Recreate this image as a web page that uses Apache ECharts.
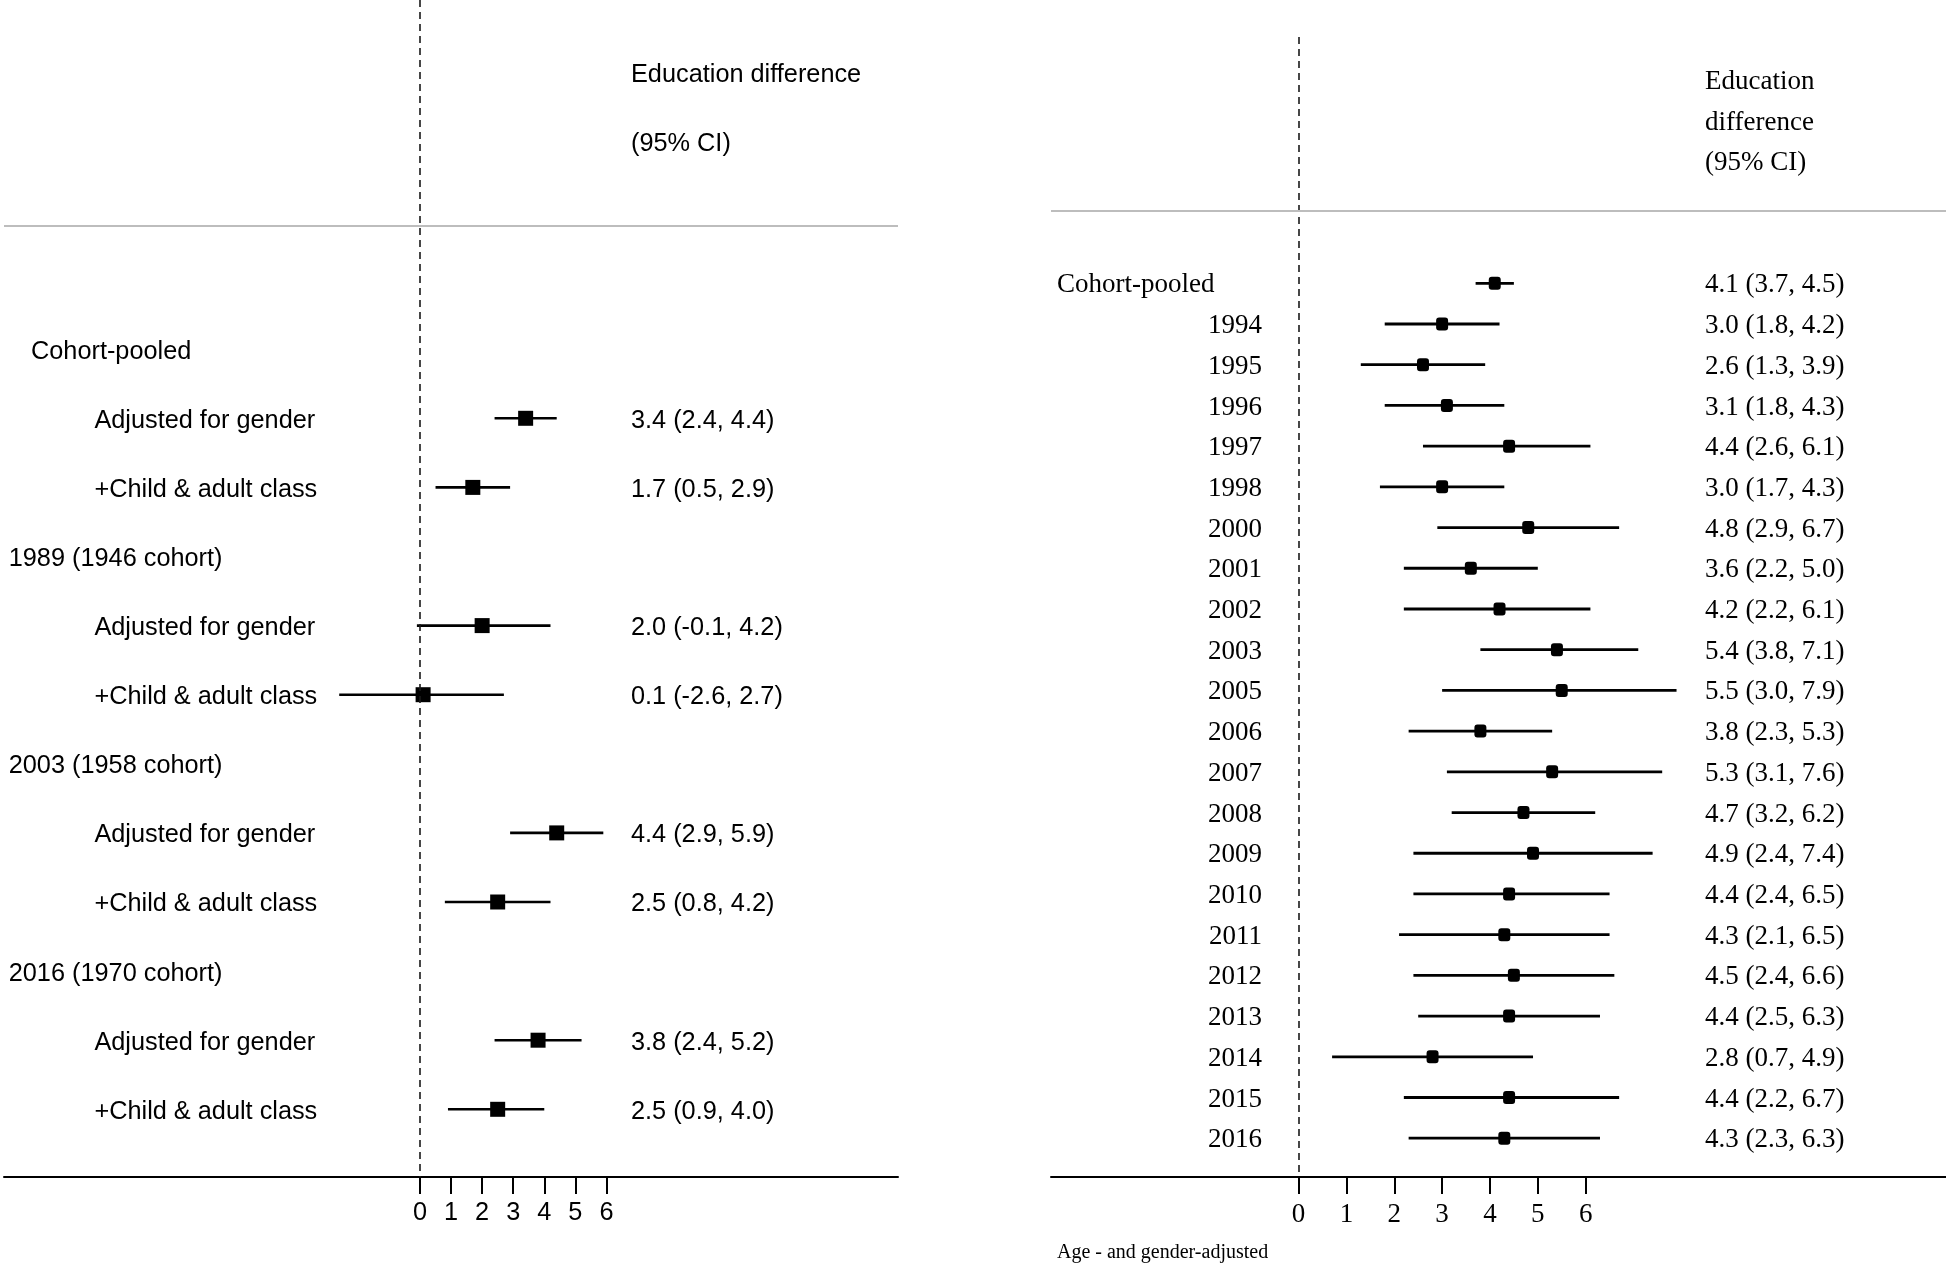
<!DOCTYPE html>
<html><head><meta charset="utf-8">
<script src="https://cdn.jsdelivr.net/npm/echarts@6/dist/echarts.min.js"></script>
<style>html,body{margin:0;padding:0;background:#fff}#c{width:1946px;height:1263px}</style>
</head><body><div id="c"></div><script>
// ---------- Left panel data ----------
const leftLabels = ['Cohort-pooled','Adjusted for gender','+Child & adult class',
  '1989 (1946 cohort)','Adjusted for gender','+Child & adult class',
  '2003 (1958 cohort)','Adjusted for gender','+Child & adult class',
  '2016 (1970 cohort)','Adjusted for gender','+Child & adult class'];
const leftLevel = [1,2,2,0,2,2,0,2,2,0,2,2];
const leftEst = [null,3.4,1.7,null,2.0,0.1,null,4.4,2.5,null,3.8,2.5];
const leftLo  = [null,2.4,0.5,null,-0.1,-2.6,null,2.9,0.8,null,2.4,0.9];
const leftHi  = [null,4.4,2.9,null,4.2,2.7,null,5.9,4.2,null,5.2,4.0];
const leftHeader = ['Education difference','(95% CI)'];

// ---------- Right panel data ----------
const rightLabels = ['Cohort-pooled','1994','1995','1996','1997','1998','2000','2001','2002','2003',
  '2005','2006','2007','2008','2009','2010','2011','2012','2013','2014','2015','2016'];
const rightEst = [4.1,3.0,2.6,3.1,4.4,3.0,4.8,3.6,4.2,5.4,5.5,3.8,5.3,4.7,4.9,4.4,4.3,4.5,4.4,2.8,4.4,4.3];
const rightLo  = [3.7,1.8,1.3,1.8,2.6,1.7,2.9,2.2,2.2,3.8,3.0,2.3,3.1,3.2,2.4,2.4,2.1,2.4,2.5,0.7,2.2,2.3];
const rightHi  = [4.5,4.2,3.9,4.3,6.1,4.3,6.7,5.0,6.1,7.1,7.9,5.3,7.6,6.2,7.4,6.5,6.5,6.6,6.3,4.9,6.7,6.3];
const rightHeader = ['Education','difference','(95% CI)'];

const tickValues = [0,1,2,3,4,5,6];
const noteText = 'Age - and gender-adjusted';

// ---------- Layout (pixels) ----------
const LP = {left:4, right:898, top:0, bottom:1177, x0:420, ux:31.07, row0:349.2, rowH:69.1,
  font:'Liberation Sans', fs:25.3, dy:2.5, levelX:[8.7,31,94.4], estX:631, headRows:[-4,-3], grayY:226,
  sq:[15,15], sym:'rect', lw:2.6};
const RP = {left:1051, right:1946, top:37, bottom:1177, x0:1298.6, ux:47.84, row0:283.3, rowH:40.71,
  font:'Liberation Serif', fs:27, dy:2, estX:1705, headRows:[-5,-4,-3], grayY:211,
  sq:[12,13], sym:'roundRect', lw:2.8};

const xv = (P,px) => (px - P.x0)/P.ux;
const yv = (P,py) => (py - P.row0)/P.rowH;
const fmt = (e,l,h) => e.toFixed(1)+' ('+l.toFixed(1)+', '+h.toFixed(1)+')';

function textSeries(P, idx, items){
  return {
    type:'custom', xAxisIndex:idx, yAxisIndex:idx, silent:true, z:5,
    data: items.map(d=>[d[0],d[1]]),
    renderItem:(params, api)=>{
      const it = items[params.dataIndex];
      const p = api.coord([api.value(0), api.value(1)]);
      return {type:'text', x:p[0], y:p[1]+P.dy,
        style:{text:it[2], fill:'#000', font: P.fs+'px "'+P.font+'"',
          textAlign:it[3], align:it[3], textVerticalAlign:'middle', verticalAlign:'middle'}};
    }
  };
}
function ciSeries(P, idx, est, lo, hi){
  const data = [];
  est.forEach((e,i)=>{ if(e!==null) data.push([lo[i],hi[i],e,i]); });
  return {
    type:'custom', xAxisIndex:idx, yAxisIndex:idx, silent:true, z:3,
    data,
    renderItem:(params, api)=>{
      const a = api.coord([api.value(0), api.value(3)]);
      const b = api.coord([api.value(1), api.value(3)]);
      return {type:'line', shape:{x1:a[0],y1:a[1],x2:b[0],y2:b[1]},
        style:{stroke:'#000', lineWidth:P.lw}};
    }
  };
}
function pointSeries(P, idx, est, grayRow){
  const data = [];
  est.forEach((e,i)=>{ if(e!==null) data.push([e,i]); });
  return {
    type:'scatter', xAxisIndex:idx, yAxisIndex:idx, silent:true, z:4,
    symbol:P.sym, symbolSize:P.sq, itemStyle:{color:'#000', opacity:1}, data,
    markLine:{symbol:'none', silent:true, label:{show:false}, animation:false,
      data:[
        {xAxis:0, lineStyle:{color:'#1a1a1a', type:[7,5], width:1.6}},
        {yAxis:grayRow, lineStyle:{color:'#bdbdbd', type:'solid', width:2}}
      ]}
  };
}
function grid(P){ return {left:P.left, top:P.top, width:P.right-P.left, height:P.bottom-P.top}; }
function xAxis(P, idx){
  return {type:'value', gridIndex:idx, min:xv(P,P.left), max:xv(P,P.right),
    axisLine:{show:true, onZero:false, lineStyle:{color:'#000', width:2}},
    axisTick:{show:true, customValues:tickValues, length:17, lineStyle:{color:'#000', width:2}},
    axisLabel:{show:true, customValues:tickValues, margin:24, color:'#000',
      fontFamily:P.font, fontSize:P.fs},
    splitLine:{show:false}};
}
function yAxis(P, idx){
  return {type:'value', gridIndex:idx, inverse:true, min:yv(P,P.top), max:yv(P,P.bottom), show:false,
    splitLine:{show:false}};
}

const leftText = [];
leftLabels.forEach((t,i)=>leftText.push([xv(LP,LP.levelX[leftLevel[i]]), i, t, 'left']));
leftEst.forEach((e,i)=>{ if(e!==null) leftText.push([xv(LP,LP.estX), i, fmt(e,leftLo[i],leftHi[i]), 'left']); });
leftHeader.forEach((t,k)=>leftText.push([xv(LP,LP.estX), LP.headRows[k], t, 'left']));

const rightText = [];
rightLabels.forEach((t,i)=>{
  if(i===0) rightText.push([xv(RP,1057), i, t, 'left']);
  else rightText.push([xv(RP,1262), i, t, 'right']);
});
rightEst.forEach((e,i)=>rightText.push([xv(RP,RP.estX), i, fmt(e,rightLo[i],rightHi[i]), 'left']));
rightHeader.forEach((t,k)=>rightText.push([xv(RP,RP.estX), RP.headRows[k], t, 'left']));

const chart = echarts.init(document.getElementById('c'), null, {renderer:'canvas'});
chart.setOption({
  backgroundColor:'#fff',
  animation:false,
  title:{text:noteText, left:1057, top:1243, padding:0,
    textStyle:{fontFamily:'Liberation Serif', fontSize:20, fontWeight:'normal', color:'#000'}},
  grid:[grid(LP), grid(RP)],
  xAxis:[xAxis(LP,0), xAxis(RP,1)],
  yAxis:[yAxis(LP,0), yAxis(RP,1)],
  series:[
    ciSeries(LP,0,leftEst,leftLo,leftHi),
    pointSeries(LP,0,leftEst,yv(LP,LP.grayY)),
    textSeries(LP,0,leftText),
    ciSeries(RP,1,rightEst,rightLo,rightHi),
    pointSeries(RP,1,rightEst,yv(RP,RP.grayY)),
    textSeries(RP,1,rightText)
  ]
});
</script></body></html>
